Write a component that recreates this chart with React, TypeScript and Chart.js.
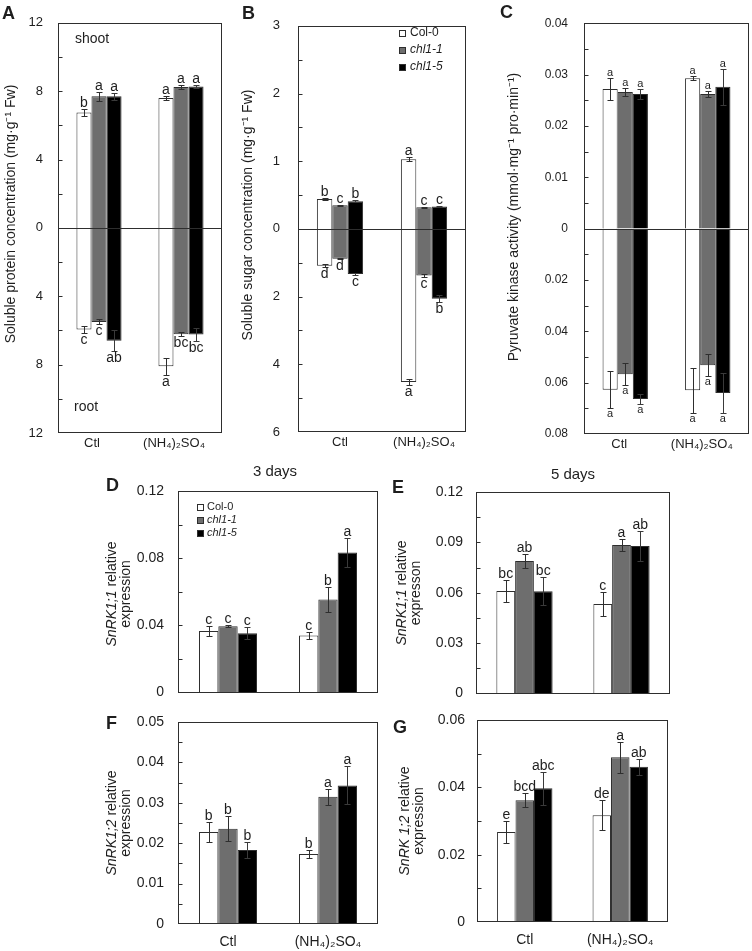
import { useEffect, useRef } from 'react';
import { Chart, registerables } from 'chart.js';

Chart.register(...registerables);

const FONT = '"Liberation Sans", Arial, Helvetica, sans-serif';
const TEXT = '#1e1e1e';
const LINE = '#2e2e2e';

const categories = ['Ctl', '(NH₄)₂SO₄'];
const genotypes = ['Col-0', 'chl1-1', 'chl1-5'];
const genotypeItalic = [false, true, true];
const barFills = ['#ffffff', '#6e6e6e', '#000000'];

// rows: Col-0, chl1-1, chl1-5 ; columns: Ctl, (NH4)2SO4
// A – soluble protein
const proteinShoot = [[6.75, 7.6], [7.7, 8.25], [7.7, 8.28]];
const proteinShootErr = [[0.22, 0.12], [0.25, 0.1], [0.2, 0.1]];
const proteinShootLetters = [['b', 'a'], ['a', 'a'], ['a', 'a']];
const proteinRoot = [[5.95, 8.1], [5.5, 6.22], [6.6, 6.24]];
const proteinRootErr = [[0.2, 0.5], [0.15, 0.12], [0.6, 0.4]];
const proteinRootLetters = [['c', 'a'], ['c', 'bc'], ['ab', 'bc']];
const proteinShootTicks = [0, 2, 4, 6, 8, 10, 12];
const proteinShootLabels = [0, 4, 8, 12];
const proteinRootTicks = [0, 2, 4, 6, 8, 10, 12];
const proteinRootLabels = [4, 8, 12];

// B – soluble sugar
const sugarShoot = [[0.44, 1.03], [0.35, 0.32], [0.41, 0.33]];
const sugarShootErr = [[0.015, 0.025], [0.005, 0.01], [0.01, 0.01]];
const sugarShootLetters = [['b', 'a'], ['c', 'c'], ['b', 'c']];
const sugarRoot = [[1.09, 4.52], [0.88, 1.38], [1.33, 2.06]];
const sugarRootErr = [[0.04, 0.1], [0.01, 0.05], [0.04, 0.1]];
const sugarRootLetters = [['d', 'a'], ['d', 'c'], ['c', 'b']];
const sugarShootTicks = [0, 0.5, 1, 1.5, 2, 2.5, 3];
const sugarShootLabels = [0, 1, 2, 3];
const sugarRootTicks = [0, 1, 2, 3, 4, 5, 6];
const sugarRootLabels = [2, 4, 6];

// C – pyruvate kinase
const pkShoot = [[0.0272, 0.0293], [0.0266, 0.0262], [0.0262, 0.0276]];
const pkShootErr = [[0.0021, 0.0004], [0.0008, 0.0005], [0.001, 0.0035]];
const pkShootLetters = [['a', 'a'], ['a', 'a'], ['a', 'a']];
const pkRoot = [[0.0628, 0.063], [0.0567, 0.0532], [0.0664, 0.064]];
const pkRootErr = [[0.0072, 0.0087], [0.0044, 0.0044], [0.0018, 0.0078]];
const pkRootLetters = [['a', 'a'], ['a', 'a'], ['a', 'a']];
const pkShootTicks = [0, 0.005, 0.01, 0.015, 0.02, 0.025, 0.03, 0.035, 0.04];
const pkShootLabels = [0, 0.01, 0.02, 0.03, 0.04];
const pkRootTicks = [0, 0.01, 0.02, 0.03, 0.04, 0.05, 0.06, 0.07, 0.08];
const pkRootLabels = [0.02, 0.04, 0.06, 0.08];

// D – SnRK1;1, 3 days
const snrk11Day3 = [[0.0367, 0.034], [0.0395, 0.0554], [0.0354, 0.0834]];
const snrk11Day3Err = [[0.003, 0.0018], [0.0005, 0.0073], [0.0035, 0.0085]];
const snrk11Day3Letters = [['c', 'c'], ['c', 'b'], ['c', 'a']];
const snrk11Day3Ticks = [0, 0.02, 0.04, 0.06, 0.08, 0.1, 0.12];
const snrk11Day3Labels = [0, 0.04, 0.08, 0.12];

// E – SnRK1;1, 5 days
const snrk11Day5 = [[0.0611, 0.0533], [0.079, 0.0884], [0.0609, 0.0878]];
const snrk11Day5Err = [[0.0065, 0.0073], [0.004, 0.0034], [0.0084, 0.0088]];
const snrk11Day5Letters = [['bc', 'c'], ['ab', 'a'], ['bc', 'ab']];
const snrk11Day5Ticks = [0, 0.015, 0.03, 0.045, 0.06, 0.075, 0.09, 0.105, 0.12];
const snrk11Day5Labels = [0, 0.03, 0.06, 0.09, 0.12];

// F – SnRK1;2, 3 days
const snrk12Day3 = [[0.0228, 0.0173], [0.0236, 0.0315], [0.0183, 0.0343]];
const snrk12Day3Err = [[0.0025, 0.0009], [0.0031, 0.002], [0.0019, 0.0047]];
const snrk12Day3Letters = [['b', 'b'], ['b', 'a'], ['b', 'a']];
const snrk12Day3Ticks = [0, 0.005, 0.01, 0.015, 0.02, 0.025, 0.03, 0.035, 0.04, 0.045, 0.05];
const snrk12Day3Labels = [0, 0.01, 0.02, 0.03, 0.04, 0.05];

// G – SnRK1;2, 5 days
const snrk12Day5 = [[0.0267, 0.0317], [0.0362, 0.0489], [0.0397, 0.0461]];
const snrk12Day5Err = [[0.0033, 0.0045], [0.002, 0.0046], [0.0048, 0.0023]];
const snrk12Day5Letters = [['e', 'de'], ['bcd', 'a'], ['abc', 'ab']];
const snrk12Day5Ticks = [0, 0.01, 0.02, 0.03, 0.04, 0.05, 0.06];
const snrk12Day5Labels = [0, 0.02, 0.04, 0.06];

type Part = {
  axisId: string;
  values: number[][];
  errors: number[][];
  letters: string[][];
  max: number;
  ticks: number[];
  labels: number[];
};
type Seg = { text: string; italic?: boolean };
type Spec = {
  key: string;
  frame: { left: number; top: number; width: number; height: number };
  box: { l: number; t: number; r: number; b: number };
  parts: Part[];
  groupPct: number;
  yFont: number;
  yPad: number;
  xFont: number;
  xPad: number;
  xOffset: number;
  showX: boolean;
  letterFont: number;
  panelLabel: { text: string; x: number; y: number };
  yTitle: { y: number; size: number; lines: { x: number; segs: Seg[] }[] };
  texts: { text: string; x: number; y: number; size: number; align: CanvasTextAlign }[];
  legend?: { x: number; textX: number; y0: number; dy: number; size: number; sq: number };
};

const specs: Spec[] = [
  {
    key: 'A',
    frame: { left: 0, top: 0, width: 240, height: 460 },
    box: { l: 58, t: 10, r: 222, b: 433 },
    parts: [
      { axisId: 'yUp', values: proteinShoot, errors: proteinShootErr, letters: proteinShootLetters, max: 12, ticks: proteinShootTicks, labels: proteinShootLabels },
      { axisId: 'yDown', values: proteinRoot, errors: proteinRootErr, letters: proteinRootLetters, max: 12, ticks: proteinRootTicks, labels: proteinRootLabels },
    ],
    groupPct: 0.55, yFont: 13, yPad: 15, xFont: 13, xPad: 3, xOffset: -7, showX: true, letterFont: 14,
    panelLabel: { text: 'A', x: 2, y: 19 },
    yTitle: { y: 214, size: 14, lines: [{ x: 11, segs: [{ text: 'Soluble protein concentration (mg·g⁻¹ Fw)' }] }] },
    texts: [
      { text: 'shoot', x: 75, y: 39, size: 14, align: 'left' },
      { text: 'root', x: 74, y: 407, size: 14, align: 'left' },
    ],
  },
  {
    key: 'B',
    frame: { left: 240, top: 0, width: 250, height: 460 },
    box: { l: 298, t: 10, r: 466, b: 432 },
    parts: [
      { axisId: 'yUp', values: sugarShoot, errors: sugarShootErr, letters: sugarShootLetters, max: 3, ticks: sugarShootTicks, labels: sugarShootLabels },
      { axisId: 'yDown', values: sugarRoot, errors: sugarRootErr, letters: sugarRootLetters, max: 6, ticks: sugarRootTicks, labels: sugarRootLabels },
    ],
    groupPct: 0.55, yFont: 13, yPad: 18, xFont: 13, xPad: 3, xOffset: 0, showX: true, letterFont: 14,
    panelLabel: { text: 'B', x: 242, y: 19 },
    yTitle: { y: 215, size: 14, lines: [{ x: 248, segs: [{ text: 'Soluble sugar concentration (mg·g⁻¹ Fw)' }] }] },
    texts: [],
    legend: { x: 399, textX: 410, y0: 33, dy: 17, size: 12, sq: 7 },
  },
  {
    key: 'C',
    frame: { left: 490, top: 0, width: 262, height: 460 },
    box: { l: 584, t: 11, r: 749, b: 434 },
    parts: [
      { axisId: 'yUp', values: pkShoot, errors: pkShootErr, letters: pkShootLetters, max: 0.04, ticks: pkShootTicks, labels: pkShootLabels },
      { axisId: 'yDown', values: pkRoot, errors: pkRootErr, letters: pkRootLetters, max: 0.08, ticks: pkRootTicks, labels: pkRootLabels },
    ],
    groupPct: 0.55, yFont: 12, yPad: 16, xFont: 13, xPad: 3, xOffset: -6, showX: true, letterFont: 11,
    panelLabel: { text: 'C', x: 500, y: 18 },
    yTitle: { y: 217, size: 14, lines: [{ x: 514, segs: [{ text: 'Pyruvate kinase activity (mmol·mg⁻¹ pro·min⁻¹)' }] }] },
    texts: [],
  },
  {
    key: 'D',
    frame: { left: 100, top: 460, width: 290, height: 255 },
    box: { l: 178, t: 491, r: 378, b: 702 },
    parts: [
      { axisId: 'y', values: snrk11Day3, errors: snrk11Day3Err, letters: snrk11Day3Letters, max: 0.12, ticks: snrk11Day3Ticks, labels: snrk11Day3Labels },
    ],
    groupPct: 0.58, yFont: 14, yPad: 14, xFont: 14, xPad: 10, xOffset: 0, showX: false, letterFont: 14,
    panelLabel: { text: 'D', x: 106, y: 491 },
    yTitle: {
      y: 594, size: 14,
      lines: [
        { x: 112, segs: [{ text: 'SnRK1;1', italic: true }, { text: ' relative' }] },
        { x: 126, segs: [{ text: 'expression' }] },
      ],
    },
    texts: [{ text: '3 days', x: 275, y: 472, size: 15, align: 'center' }],
    legend: { x: 197, textX: 207, y0: 507, dy: 13, size: 11, sq: 7 },
  },
  {
    key: 'E',
    frame: { left: 385, top: 460, width: 367, height: 255 },
    box: { l: 476, t: 492, r: 670, b: 698 },
    parts: [
      { axisId: 'y', values: snrk11Day5, errors: snrk11Day5Err, letters: snrk11Day5Letters, max: 0.12, ticks: snrk11Day5Ticks, labels: snrk11Day5Labels },
    ],
    groupPct: 0.58, yFont: 14, yPad: 13, xFont: 14, xPad: 10, xOffset: 0, showX: false, letterFont: 14,
    panelLabel: { text: 'E', x: 392, y: 493 },
    yTitle: {
      y: 593, size: 14,
      lines: [
        { x: 402, segs: [{ text: 'SnRK1;1', italic: true }, { text: ' relative' }] },
        { x: 416, segs: [{ text: 'expresson' }] },
      ],
    },
    texts: [{ text: '5 days', x: 573, y: 475, size: 15, align: 'center' }],
  },
  {
    key: 'F',
    frame: { left: 100, top: 690, width: 290, height: 261 },
    box: { l: 178, t: 722, r: 378, b: 924 },
    parts: [
      { axisId: 'y', values: snrk12Day3, errors: snrk12Day3Err, letters: snrk12Day3Letters, max: 0.05, ticks: snrk12Day3Ticks, labels: snrk12Day3Labels },
    ],
    groupPct: 0.58, yFont: 14, yPad: 14, xFont: 14, xPad: 10, xOffset: 0, showX: true, letterFont: 14,
    panelLabel: { text: 'F', x: 106, y: 729 },
    yTitle: {
      y: 823, size: 14,
      lines: [
        { x: 112, segs: [{ text: 'SnRK1;2', italic: true }, { text: ' relative' }] },
        { x: 126, segs: [{ text: 'expression' }] },
      ],
    },
    texts: [],
  },
  {
    key: 'G',
    frame: { left: 385, top: 690, width: 367, height: 261 },
    box: { l: 477, t: 720, r: 668, b: 922 },
    parts: [
      { axisId: 'y', values: snrk12Day5, errors: snrk12Day5Err, letters: snrk12Day5Letters, max: 0.06, ticks: snrk12Day5Ticks, labels: snrk12Day5Labels },
    ],
    groupPct: 0.58, yFont: 14, yPad: 12, xFont: 14, xPad: 10, xOffset: 0, showX: true, letterFont: 14,
    panelLabel: { text: 'G', x: 393, y: 733 },
    yTitle: {
      y: 821, size: 14,
      lines: [
        { x: 405, segs: [{ text: 'SnRK 1;2', italic: true }, { text: ' relative' }] },
        { x: 419, segs: [{ text: 'expression' }] },
      ],
    },
    texts: [],
  },
];

function drawVertical(ctx: CanvasRenderingContext2D, x: number, y: number, segs: Seg[], size: number) {
  ctx.save();
  ctx.translate(x, y);
  ctx.rotate(-Math.PI / 2);
  ctx.textBaseline = 'middle';
  ctx.textAlign = 'left';
  ctx.fillStyle = TEXT;
  const fonts = segs.map((s) => `${s.italic ? 'italic ' : ''}${size}px ${FONT}`);
  let total = 0;
  const widths = segs.map((s, i) => {
    ctx.font = fonts[i];
    const w = ctx.measureText(s.text).width;
    total += w;
    return w;
  });
  let cx = -total / 2;
  segs.forEach((s, i) => {
    ctx.font = fonts[i];
    ctx.fillText(s.text, cx, 0);
    cx += widths[i];
  });
  ctx.restore();
}

function buildConfig(spec: Spec): any {
  const f = spec.frame;
  const b = spec.box;
  const yw = b.l - f.left;
  const xh = f.top + f.height - b.b;
  const split = spec.parts.length > 1;
  const ox = f.left;
  const oy = f.top;

  const datasets: any[] = [];
  spec.parts.forEach((part) => {
    part.values.forEach((vals, g) => {
      datasets.push({
        label: genotypes[g],
        data: vals,
        backgroundColor: barFills[g],
        borderColor: LINE,
        borderWidth: 1,
        yAxisID: part.axisId,
        stack: 'g' + g,
        barPercentage: 1,
        categoryPercentage: spec.groupPct,
      });
    });
  });

  const yScale = (part: Part, reverse: boolean, weight: number) => ({
    type: 'linear',
    position: 'left',
    min: 0,
    max: part.max,
    reverse,
    weight,
    ...(split ? { stack: 'ystack', stackWeight: 1 } : {}),
    grid: { display: false, drawTicks: false },
    border: { display: false },
    afterBuildTicks: (s: any) => {
      s.ticks = part.ticks.map((v) => ({ value: v }));
    },
    afterFit: (s: any) => {
      s.width = yw;
    },
    ticks: {
      autoSkip: false,
      padding: spec.yPad,
      color: TEXT,
      font: { family: FONT, size: spec.yFont },
      callback: (v: number) => {
        const l = part.labels.find((x) => Math.abs(x - v) < 1e-9);
        return l === undefined ? '' : String(l);
      },
    },
  });

  const scales: any = {
    x: {
      type: 'category',
      grid: { display: false, drawTicks: false },
      border: { display: false },
      afterFit: (s: any) => {
        s.height = xh;
      },
      ticks: {
        display: spec.showX,
        autoSkip: false,
        maxRotation: 0,
        minRotation: 0,
        padding: spec.xPad,
        labelOffset: spec.xOffset,
        color: TEXT,
        font: { family: FONT, size: spec.xFont },
      },
    },
  };
  if (split) {
    scales.yUp = yScale(spec.parts[0], false, 1);
    scales.yDown = yScale(spec.parts[1], true, 0);
  } else {
    scales.y = yScale(spec.parts[0], false, 0);
  }

  const decor = {
    id: 'decor' + spec.key,
    afterDatasetsDraw(chart: any) {
      const ctx: CanvasRenderingContext2D = chart.ctx;
      const a = chart.chartArea;
      ctx.save();
      ctx.lineWidth = 1;
      ctx.strokeStyle = LINE;
      // error bars and letters
      spec.parts.forEach((part, pi) => {
        const scale = chart.scales[part.axisId];
        const down = part.axisId === 'yDown';
        part.values.forEach((vals, g) => {
          const meta = chart.getDatasetMeta(pi * 3 + g);
          vals.forEach((v, i) => {
            const el = meta.data[i];
            const x = Math.round(el.x) + 0.5;
            const e = part.errors[g][i];
            const p1 = Math.round(scale.getPixelForValue(v + e)) + 0.5;
            const p2 = Math.round(scale.getPixelForValue(v - e)) + 0.5;
            ctx.strokeStyle = g === 2 ? '#3a3a3a' : LINE;
            ctx.beginPath();
            ctx.moveTo(x, p1);
            ctx.lineTo(x, p2);
            ctx.moveTo(x - 3, p1);
            ctx.lineTo(x + 3, p1);
            ctx.moveTo(x - 3, p2);
            ctx.lineTo(x + 3, p2);
            ctx.stroke();
            ctx.font = `${spec.letterFont}px ${FONT}`;
            ctx.fillStyle = TEXT;
            ctx.textAlign = 'center';
            ctx.textBaseline = 'alphabetic';
            const lt = part.letters[g][i];
            if (down) ctx.fillText(lt, el.x, Math.max(p1, p2) + spec.letterFont * 0.78);
            else ctx.fillText(lt, el.x, Math.min(p1, p2) - 3);
          });
        });
      });
      // frame
      ctx.strokeStyle = LINE;
      const L = Math.round(a.left) + 0.5;
      const T = Math.round(a.top) + 0.5;
      const R = Math.round(a.right) - 0.5;
      const B = Math.round(a.bottom) - 0.5;
      ctx.strokeRect(L, T, R - L, B - T);
      let zeroY = -100;
      if (split) {
        zeroY = Math.round(chart.scales.yUp.getPixelForValue(0)) + 0.5;
        ctx.beginPath();
        ctx.moveTo(L, zeroY);
        ctx.lineTo(R, zeroY);
        ctx.stroke();
      }
      // inward ticks
      spec.parts.forEach((part) => {
        const scale = chart.scales[part.axisId];
        scale.ticks.forEach((t: any) => {
          const y = Math.round(scale.getPixelForValue(t.value)) + 0.5;
          if (Math.abs(y - T) < 1.5 || Math.abs(y - B) < 1.5 || Math.abs(y - zeroY) < 1.5) return;
          ctx.beginPath();
          ctx.moveTo(L, y);
          ctx.lineTo(L + 4, y);
          ctx.stroke();
        });
      });
      ctx.restore();
    },
    afterDraw(chart: any) {
      const ctx: CanvasRenderingContext2D = chart.ctx;
      ctx.save();
      ctx.fillStyle = TEXT;
      // panel label
      ctx.font = `bold 18px ${FONT}`;
      ctx.textAlign = 'left';
      ctx.textBaseline = 'alphabetic';
      ctx.fillText(spec.panelLabel.text, spec.panelLabel.x - ox, spec.panelLabel.y - oy);
      // y title
      spec.yTitle.lines.forEach((ln) => drawVertical(ctx, ln.x - ox, spec.yTitle.y - oy, ln.segs, spec.yTitle.size));
      // extra texts
      spec.texts.forEach((t) => {
        ctx.font = `${t.size}px ${FONT}`;
        ctx.textAlign = t.align;
        ctx.textBaseline = 'middle';
        ctx.fillText(t.text, t.x - ox, t.y - oy);
      });
      // legend
      if (spec.legend) {
        const lg = spec.legend;
        genotypes.forEach((name, g) => {
          const cy = lg.y0 + g * lg.dy - oy;
          const sx = lg.x - ox;
          ctx.fillStyle = barFills[g];
          ctx.fillRect(sx, Math.round(cy - lg.sq / 2), lg.sq, lg.sq);
          ctx.strokeStyle = LINE;
          ctx.lineWidth = 1;
          ctx.strokeRect(sx + 0.5, Math.round(cy - lg.sq / 2) + 0.5, lg.sq - 1, lg.sq - 1);
          ctx.fillStyle = TEXT;
          ctx.font = `${genotypeItalic[g] ? 'italic ' : ''}${lg.size}px ${FONT}`;
          ctx.textAlign = 'left';
          ctx.textBaseline = 'middle';
          ctx.fillText(name, lg.textX - ox, cy);
        });
      }
      ctx.restore();
    },
  };

  return {
    type: 'bar',
    data: { labels: categories, datasets },
    options: {
      responsive: true,
      maintainAspectRatio: false,
      animation: false,
      events: [],
      layout: {
        padding: {
          left: 0,
          top: b.t - f.top,
          right: f.left + f.width - b.r,
          bottom: 0,
        },
      },
      plugins: {
        legend: { display: false },
        tooltip: { enabled: false },
        title: { display: false },
      },
      scales,
    },
    plugins: [decor],
  };
}

function Panel({ spec }: { spec: Spec }) {
  const ref = useRef<HTMLCanvasElement | null>(null);
  useEffect(() => {
    if (!ref.current) return;
    const chart = new Chart(ref.current, buildConfig(spec));
    return () => chart.destroy();
  }, [spec]);
  return (
    <div
      style={{
        position: 'absolute',
        left: spec.frame.left,
        top: spec.frame.top,
        width: spec.frame.width,
        height: spec.frame.height,
      }}
    >
      <canvas ref={ref} />
    </div>
  );
}

export default function App() {
  return (
    <div
      style={{
        position: 'absolute',
        left: 0,
        top: 0,
        width: 752,
        height: 951,
        background: '#ffffff',
        overflow: 'hidden',
      }}
    >
      {specs.map((s) => (
        <Panel key={s.key} spec={s} />
      ))}
    </div>
  );
}
